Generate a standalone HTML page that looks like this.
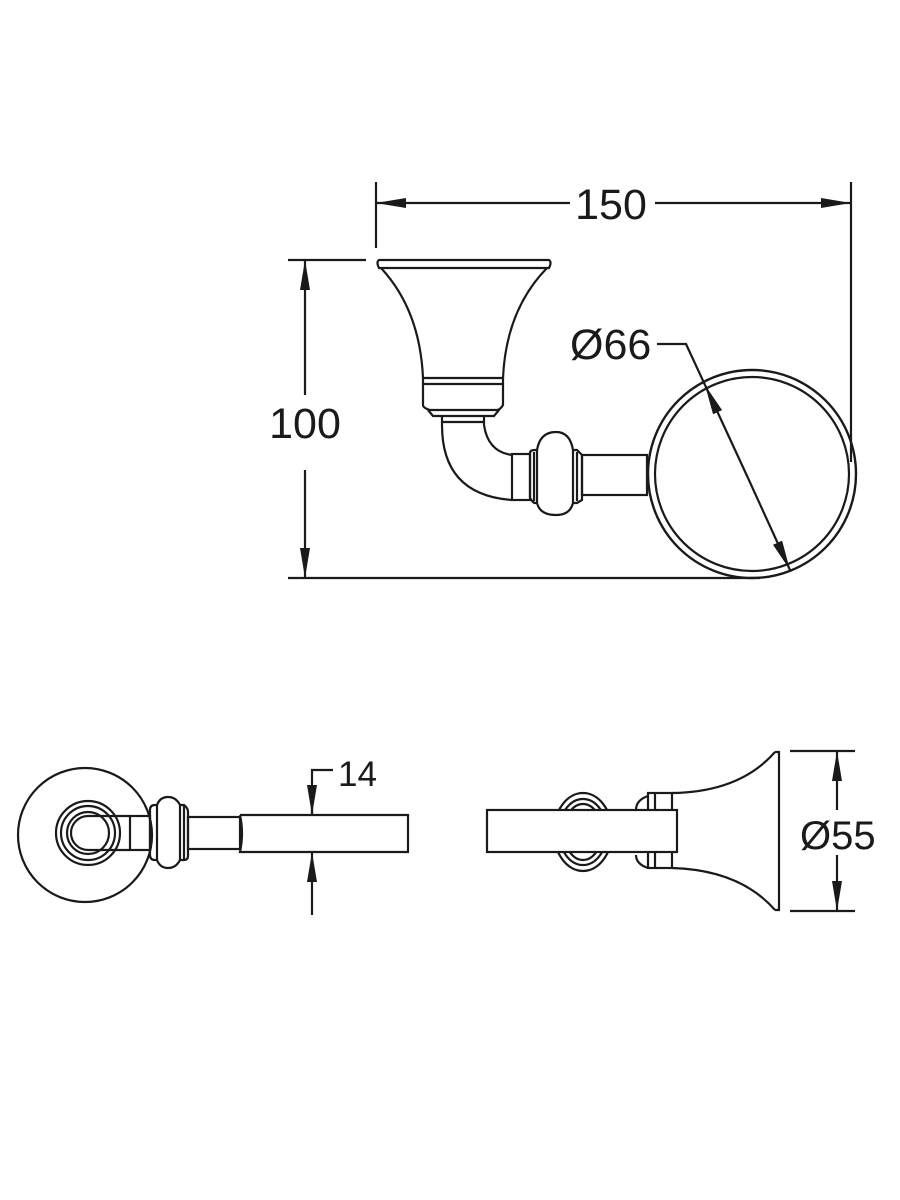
<!DOCTYPE html>
<html><head><meta charset="utf-8"><style>body{margin:0;background:#fff}svg{display:block}</style></head><body>
<svg width="900" height="1200" viewBox="0 0 900 1200" xmlns="http://www.w3.org/2000/svg" fill="none" stroke="#1a1a1a" stroke-width="2.2" font-family="Liberation Sans, sans-serif">
<defs>
<marker id="b" viewBox="0 0 30 10" refX="30" refY="5" markerWidth="30" markerHeight="10" orient="auto-start-reverse" markerUnits="userSpaceOnUse"><path d="M0,0 L30,5 L0,10z" fill="#1a1a1a" stroke="none"/></marker></defs>
<!-- 150 -->
<line x1="376" y1="182" x2="376" y2="248"/><line x1="851" y1="182" x2="851" y2="462"/>
<line x1="376" y1="203" x2="570" y2="203" marker-start="url(#b)"/><line x1="655" y1="203" x2="851" y2="203" marker-end="url(#b)"/>
<text x="611" y="219" font-size="43" fill="#1a1a1a" stroke="none" text-anchor="middle">150</text>
<!-- 100 -->
<line x1="288" y1="260" x2="366" y2="260"/><line x1="288" y1="578" x2="760" y2="578"/>
<line x1="305" y1="260" x2="305" y2="395" marker-start="url(#b)"/><line x1="305" y1="470" x2="305" y2="578" marker-end="url(#b)"/>
<text x="305" y="438" font-size="43" fill="#1a1a1a" stroke="none" text-anchor="middle">100</text>
<!-- flange top -->
<path d="M379,260 L549,260 Q552,262 549,268 L379,268 Q376,262 379,260 Z"/>
<path d="M381,268 Q420,310 423,378 M547,268 Q506,310 503,378"/>
<path d="M423,378 L503,378 L503,405 Q500,410 497,410 L430,410 Q423,408 423,405 Z"/>
<line x1="423" y1="384" x2="503" y2="384"/>
<path d="M428,410 L433,416 L494,416 L499,410"/>
<path d="M442,416 L442,425 Q442,495 512,500 M484,416 L484,425 Q488,452 512,455"/>
<path d="M442,422 L485,422"/>
<rect x="512" y="454" width="18" height="46"/>
<path d="M530,453 L530,498 Q533,503 535,503 L537,503 Q540,515 556,515 Q570,515 573,503 L577,503 L582,500 L582,455 L577,450 L573,450 Q570,432 556,432 Q540,432 537,450 L535,450 Q530,450 530,453 Z"/>
<line x1="537" y1="450" x2="537" y2="503"/><line x1="573" y1="450" x2="573" y2="503"/>
<line x1="534" y1="452" x2="534" y2="501"/><line x1="577" y1="452" x2="577" y2="501"/>
<rect x="582" y="455" width="65" height="40"/>
<circle cx="752" cy="474" r="104" stroke-width="2.4"/><circle cx="752" cy="474" r="97"/>
<text x="570" y="359" font-size="43" fill="#1a1a1a" stroke="none">Ø66</text>
<polyline points="657,344 686,344 705,385"/>
<line x1="748" y1="478" x2="705" y2="385" marker-end="url(#b)"/>
<line x1="748" y1="478" x2="790" y2="570" marker-end="url(#b)"/>
<!-- bottom left -->
<circle cx="85" cy="835" r="67"/>
<circle cx="88" cy="833" r="32"/><circle cx="88" cy="833" r="27"/><circle cx="88" cy="833" r="21"/>
<path d="M130,816 L88,816 A17,17 0 0 0 88,850 L130,850"/>
<rect x="130" y="816" width="20" height="34"/>
<path d="M150,810 Q150,805 155,805 L157,805 Q160,797 168,797 Q176,797 180,805 L184,805 Q188,808 188,812 L188,856 Q188,860 184,860 L180,860 Q176,868 168,868 Q160,868 157,860 L155,860 Q150,860 150,855 Z"/>
<line x1="157" y1="805" x2="157" y2="860"/><line x1="180" y1="805" x2="180" y2="860"/><line x1="184" y1="806" x2="184" y2="859"/>
<rect x="188" y="817" width="52" height="32"/>
<path d="M240,815 L408,815 L408,852 L240,852 Q244,833 240,815"/>
<polyline points="333,770 312,770 312,815" /><line x1="312" y1="790" x2="312" y2="815" marker-end="url(#b)"/>
<line x1="312" y1="915" x2="312" y2="852" marker-end="url(#b)"/>
<text x="338" y="786" font-size="35" fill="#1a1a1a" stroke="none">14</text>
<!-- bottom right -->
<ellipse cx="583" cy="832" rx="29" ry="39"/><ellipse cx="583" cy="832" rx="24" ry="33"/><ellipse cx="583" cy="832" rx="19" ry="28"/>
<path d="M648,796 Q636,800 636,810 M648,868 Q636,864 636,855"/>
<rect x="648" y="793" width="24" height="75"/>
<line x1="655" y1="793" x2="655" y2="868"/>
<rect x="487" y="810" width="190" height="42" fill="#fff"/>
<path d="M672,793 Q740,792 775,752 M672,868 Q740,870 775,910"/>
<path d="M775,752 L779,752 L779,910 L775,910"/>
<line x1="790" y1="751" x2="855" y2="751"/><line x1="790" y1="911" x2="855" y2="911"/>
<line x1="837" y1="751" x2="837" y2="810" marker-start="url(#b)"/><line x1="837" y1="855" x2="837" y2="911" marker-end="url(#b)"/>
<text x="800" y="849" font-size="40" fill="#1a1a1a" stroke="none">Ø55</text>
</svg>
</body></html>
